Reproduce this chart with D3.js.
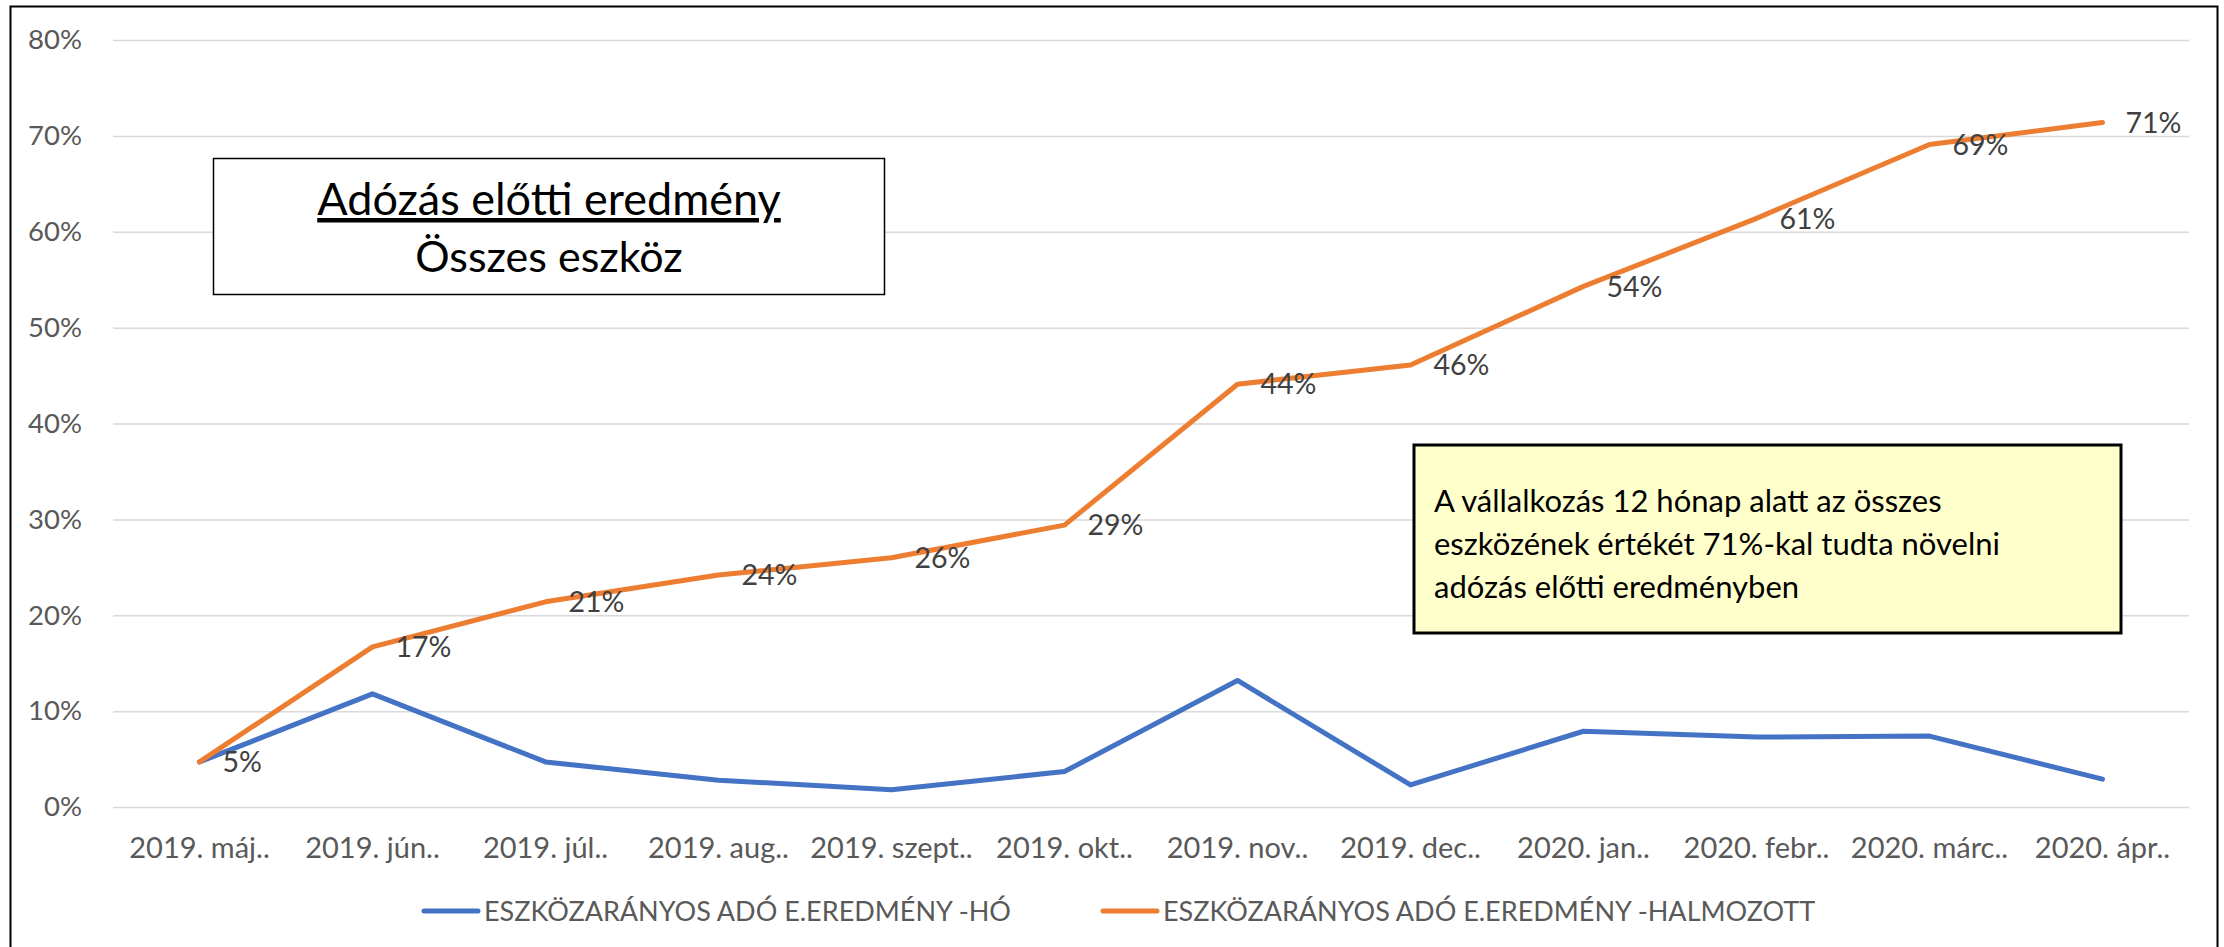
<!DOCTYPE html>
<html>
<head>
<meta charset="utf-8">
<script src="https://cdn.jsdelivr.net/npm/d3@7"></script>
<style>
  html, body { margin: 0; padding: 0; background: #fff; }
  svg { display: block; font-family: Lato, "Open Sans", sans-serif; }
</style>
</head>
<body>
<svg id="chart" width="2224" height="947"></svg>
<script>
// Monthly vs cumulative asset-proportional pre-tax result (%)
const months = ["2019. máj..", "2019. jún..", "2019. júl..", "2019. aug..", "2019. szept..", "2019. okt..",
  "2019. nov..", "2019. dec..", "2020. jan..", "2020. febr..", "2020. márc..", "2020. ápr.."];
const monthly = [4.7, 11.8, 4.7, 2.8, 1.8, 3.7, 13.2, 2.3, 7.9, 7.3, 7.4, 2.9];
const cumulative = [4.7, 16.7, 21.4, 24.2, 26.0, 29.4, 44.1, 46.1, 54.3, 61.4, 69.1, 71.4];
const yTicks = [0, 10, 20, 30, 40, 50, 60, 70, 80];
const seriesNames = ["ESZKÖZARÁNYOS ADÓ E.EREDMÉNY -HÓ", "ESZKÖZARÁNYOS ADÓ E.EREDMÉNY -HALMOZOTT"];
const titleLines = ["Adózás előtti eredmény", "Összes eszköz"];
const noteLines = ["A vállalkozás 12 hónap alatt az összes",
  "eszközének értékét 71%-kal tudta növelni",
  "adózás előtti eredményben"];

const svg = d3.select("#chart");
const m = { t: 40, r: 35, b: 140, l: 113 };
const W = 2224, H = 947;
const blue = "#4472c4", orange = "#ed7d31";

// outer frame (bottom edge runs off the picture)
svg.append("rect")
  .attr("x", 10.5).attr("y", 6.5).attr("width", 2207).attr("height", 1000)
  .attr("fill", "#fff").attr("stroke", "#000").attr("stroke-width", 2);

const x = d3.scaleBand().domain(months).range([m.l, W - m.r]);
const y = d3.scaleLinear().domain([0, 80]).range([H - m.b, m.t]);
const cx = d => x(d) + x.bandwidth() / 2;

// gridlines + y labels
svg.append("g").attr("transform", `translate(${m.l},0)`)
  .call(d3.axisLeft(y).tickValues(yTicks).tickFormat(d => d + "%")
    .tickSize(-(W - m.l - m.r)).tickPadding(31))
  .call(g => g.select(".domain").remove())
  .call(g => g.selectAll("line").attr("stroke", "#d9d9d9").attr("stroke-width", 1.5))
  .call(g => g.selectAll("text").attr("fill", "#595959").style("font-size", "27.5px")
    .style("font-family", "Lato"));

// x labels
svg.append("g").attr("transform", `translate(0,${H - m.b})`)
  .call(d3.axisBottom(x).tickSize(0).tickPadding(30))
  .call(g => g.select(".domain").remove())
  .call(g => g.selectAll("text").attr("fill", "#595959").style("font-size", "29px")
    .style("font-family", "Lato"));

const line = d3.line().x((d, i) => cx(months[i])).y(d => y(d));

[[monthly, blue], [cumulative, orange]].forEach(([vals, col]) => {
  svg.append("path").datum(vals)
    .attr("fill", "none").attr("stroke", col).attr("stroke-width", 5)
    .attr("stroke-linejoin", "round").attr("stroke-linecap", "round")
    .attr("d", line);
});

// data labels on cumulative line
svg.selectAll("text.lbl").data(cumulative).join("text")
  .attr("class", "lbl")
  .attr("x", (d, i) => cx(months[i]) + 23).attr("y", d => y(d))
  .attr("dy", "0.36em").attr("fill", "#404040")
  .style("font-size", "28.5px")
  .text(d => Math.round(d) + "%");

// legend
const legend = svg.append("g").attr("transform", "translate(0,911)");
const legX = [424, 1103];
seriesNames.forEach((name, i) => {
  const col = i === 0 ? blue : orange;
  legend.append("line")
    .attr("x1", legX[i]).attr("x2", legX[i] + 54)
    .attr("stroke", col).attr("stroke-width", 5).attr("stroke-linecap", "round");
  legend.append("text")
    .attr("x", legX[i] + 60).attr("dy", "0.36em")
    .attr("fill", "#595959").style("font-size", "27px")
    .text(name);
});

// title box
svg.append("rect")
  .attr("x", 213.5).attr("y", 158.5).attr("width", 671).attr("height", 136)
  .attr("fill", "#fff").attr("stroke", "#000").attr("stroke-width", 1.5);
svg.append("text").attr("x", 549).attr("y", 215)
  .attr("text-anchor", "middle").style("font-size", "45px")
  .style("text-decoration", "underline")
  .text(titleLines[0]);
svg.append("text").attr("x", 549).attr("y", 272)
  .attr("text-anchor", "middle").style("font-size", "43px")
  .text(titleLines[1]);

// note box
svg.append("rect")
  .attr("x", 1414).attr("y", 445).attr("width", 707).attr("height", 188)
  .attr("fill", "#ffffcc").attr("stroke", "#000").attr("stroke-width", 3);
svg.append("g").selectAll("text").data(noteLines).join("text")
  .attr("x", 1434).attr("y", (d, i) => 512 + i * 43)
  .style("font-size", "31px").attr("fill", "#000")
  .text(d => d);
</script>
</body>
</html>
